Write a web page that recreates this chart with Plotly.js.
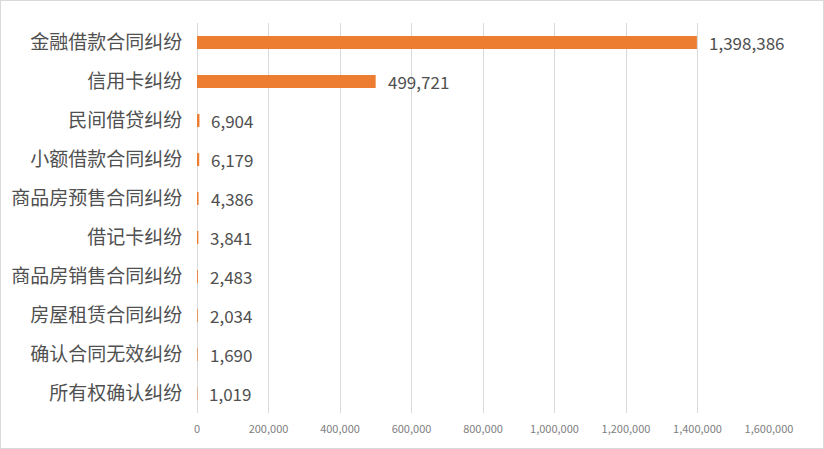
<!DOCTYPE html>
<html>
<head>
<meta charset="utf-8">
<script src="https://cdn.plot.ly/plotly-3.0.1.min.js"></script>
<style>
  html, body { margin: 0; padding: 0; background: #fff; }
  #chart { width: 822px; height: 447px; border: 1px solid #d9d9d9; }
</style>
</head>
<body>
<div id="chart"></div>
<script>
// categories top to bottom
const categories = [
  '金融借款合同纠纷',
  '信用卡纠纷',
  '民间借贷纠纷',
  '小额借款合同纠纷',
  '商品房预售合同纠纷',
  '借记卡纠纷',
  '商品房销售合同纠纷',
  '房屋租赁合同纠纷',
  '确认合同无效纠纷',
  '所有权确认纠纷',
];
const caseCounts = [1398386, 499721, 6904, 6179, 4386, 3841, 2483, 2034, 1690, 1019];
const xTicks = [0, 200000, 400000, 600000, 800000, 1000000, 1200000, 1400000, 1600000];
const xTickLabels = ['0', '200,000', '400,000', '600,000', '800,000', '1,000,000', '1,200,000', '1,400,000', '1,600,000'];

const fmt = (v) => v.toLocaleString('en-US');

const labels = caseCounts.map((v, i) => ({
  x: v,
  y: categories[i],
  text: fmt(v),
  xanchor: 'left',
  xshift: 10,
  showarrow: false,
  font: { family: 'Noto Sans CJK SC, sans-serif', size: 17, color: '#505050' },
}));

Plotly.newPlot('chart', [
  {
    type: 'bar',
    orientation: 'h',
    x: caseCounts,
    y: categories,
    marker: { color: '#ED7D31' },
    hoverinfo: 'skip',
  },
], {
  width: 822,
  height: 447,
  margin: { l: 196, r: 54, t: 22, b: 35 },
  paper_bgcolor: '#fff',
  plot_bgcolor: '#fff',
  bargap: 0.67,
  showlegend: false,
  xaxis: {
    range: [0, 1600000],
    tickvals: xTicks,
    ticktext: xTickLabels,
    showgrid: true,
    gridcolor: '#d9d9d9',
    gridwidth: 1,
    zeroline: true,
    zerolinecolor: '#d9d9d9',
    zerolinewidth: 1,
    showline: false,
    ticks: 'outside',
    ticklen: 6,
    tickcolor: 'rgba(0,0,0,0)',
    tickfont: { family: 'Noto Sans CJK SC, sans-serif', size: 11, color: '#808080' },
    fixedrange: true,
  },
  yaxis: {
    categoryorder: 'array',
    categoryarray: categories.slice().reverse(),
    autorange: true,
    showgrid: false,
    zeroline: false,
    showline: false,
    ticks: 'outside',
    ticklen: 10,
    tickcolor: 'rgba(0,0,0,0)',
    tickfont: { family: 'Noto Sans CJK SC, sans-serif', size: 19, color: '#505050' },
    fixedrange: true,
  },
  annotations: labels,
}, { displayModeBar: false, staticPlot: true });
</script>
</body>
</html>
